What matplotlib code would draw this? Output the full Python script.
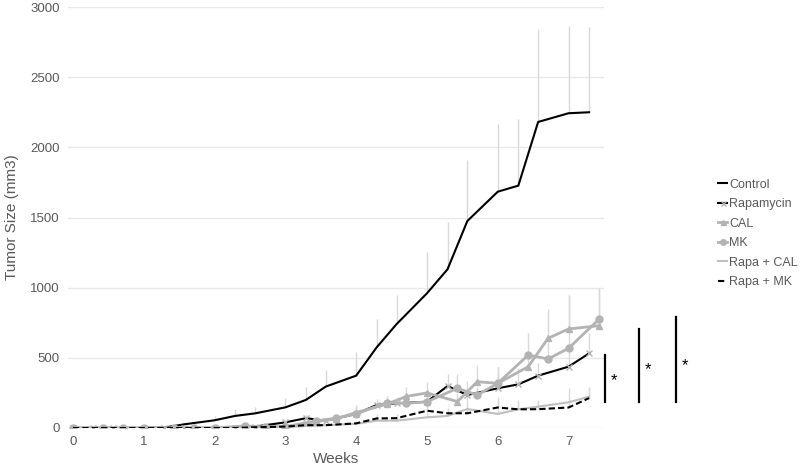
import numpy as np
import matplotlib
matplotlib.use('Agg')
import matplotlib.pyplot as plt

plt.rcParams['font.family'] = ['Liberation Sans', 'DejaVu Sans']

# two measuring schedules (weeks)
WEEKS_A = [0, 0.29, 0.57, 1, 1.29, 1.57, 2, 2.29, 2.57, 3, 3.29, 3.57, 4, 4.29, 4.57,
           5, 5.29, 5.57, 6, 6.29, 6.57, 7, 7.29]
WEEKS_B = [0, 0.43, 0.71, 1, 1.43, 1.71, 2, 2.43, 2.71, 3, 3.43, 3.71, 4, 4.43, 4.71,
           5, 5.43, 5.71, 6, 6.43, 6.71, 7, 7.43]

control = [0, 0, 0, 0, 3, 26, 55, 86, 104, 147, 200, 295, 373, 575, 740,
           960, 1131, 1475, 1684, 1727, 2181, 2243, 2250]
control_err = [0, 0, 0, 0, 5, 15, 28, 49, 46, 64, 95, 118, 171, 205, 208,
               297, 339, 433, 481, 473, 663, 622, 608]

rapamycin = [0, 0, 0, 0, 0, 0, 0, 0, 10, 40, 70, 52, 100, 164, 176,
             187, 299, 235, 283, 311, 373, 437, 532]
rapamycin_err = [0, 0, 0, 0, 0, 0, 0, 5, 10, 20, 25, 20, 40, 45, 40,
                 45, 85, 100, 110, 120, 90, 110, 145]

cal = [0, 0, 0, 0, 0, 0, 0, 5, 3, 5, 45, 65, 110, 170, 225,
       250, 188, 330, 318, 437, 639, 706, 729]
cal_err = [0, 0, 0, 0, 0, 0, 0, 5, 5, 10, 15, 20, 55, 50, 70,
           80, 60, 120, 120, 100, 207, 240, 267]

mk = [0, 0, 0, 0, 0, 0, 0, 15, 8, 10, 50, 70, 100, 180, 176,
      187, 283, 235, 318, 520, 492, 568, 775]
mk_err = [0, 0, 0, 0, 0, 0, 0, 5, 5, 10, 20, 20, 60, 45, 50,
          60, 100, 60, 120, 155, 120, 380, 225]

rapa_cal = [0, 0, 0, 0, 0, 0, 0, 0, 0, 5, 15, 20, 30, 52, 52,
            76, 86, 135, 100, 133, 152, 183, 223]
rapa_cal_err = [0, 0, 0, 0, 0, 0, 0, 0, 0, 5, 10, 10, 15, 30, 35,
                45, 50, 125, 120, 65, 50, 100, 70]

rapa_mk = [0, 0, 0, 0, 0, 0, 0, 0, 5, 10, 20, 20, 33, 68, 70,
           123, 105, 105, 146, 133, 134, 146, 213]
rapa_mk_err = [0, 0, 0, 0, 0, 0, 0, 0, 5, 10, 10, 10, 15, 30, 30,
               40, 40, 50, 60, 55, 50, 60, 70]

# significance brackets: x, y bottom, y top, star y
SIG_X = [7.52, 8.0, 8.52]
SIG_LOW = [188, 188, 188]
SIG_HIGH = [517, 706, 791]
SIG_STAR = [335, 413, 442]

X_TICKS = [0, 1, 2, 3, 4, 5, 6, 7]
Y_TICKS = [0, 500, 1000, 1500, 2000, 2500, 3000]

GRAY = '#b3b3b3'
LIGHT = '#bfbfbf'
ERR = '#d9d9d9'
TEXT = '#595959'

SERIES = [
    ('Control', WEEKS_A, control, control_err, dict(color='black', lw=1.5)),
    ('Rapamycin', WEEKS_A, rapamycin, rapamycin_err,
     dict(color='black', lw=1.5, marker='x', ms=4.5, mec=GRAY, mew=1)),
    ('CAL', WEEKS_B, cal, cal_err,
     dict(color=GRAY, lw=2, marker='^', ms=4.5, mec=GRAY, mfc=GRAY)),
    ('MK', WEEKS_B, mk, mk_err,
     dict(color=GRAY, lw=2, marker='o', ms=5, mec=GRAY, mfc=GRAY)),
    ('Rapa + CAL', WEEKS_A, rapa_cal, rapa_cal_err, dict(color=LIGHT, lw=1.5)),
    ('Rapa + MK', WEEKS_A, rapa_mk, rapa_mk_err,
     dict(color='black', lw=1.5, ls=(0, (3, 1.5)))),
]

fig = plt.figure(figsize=(8, 4.68), dpi=100)
ax = fig.add_axes([0.085, 0.0855, 0.67, 0.8995])

handles = []
for name, xs, ys, err, style in SERIES:
    ax.errorbar(xs, ys, yerr=[np.zeros(len(err)), err], fmt='none',
                ecolor=ERR, elinewidth=1, capsize=0, zorder=1)
for name, xs, ys, err, style in SERIES:
    h, = ax.plot(xs, ys, label=name, zorder=3, **style)
    handles.append(h)

ax.set_xlim(-0.07, 7.5)
ax.set_ylim(0, 3000)
ax.set_xticks(X_TICKS)
ax.set_yticks(Y_TICKS)
ax.grid(axis='y', color='#e8e8e8', lw=1)
ax.set_axisbelow(True)
for s in ax.spines.values():
    s.set_visible(False)
ax.tick_params(length=0, labelsize=9.5, labelcolor=TEXT, pad=6)
ax.set_xlabel('Weeks', fontsize=11, color=TEXT, labelpad=3)
ax.set_ylabel('Tumor Size (mm3)', fontsize=11, color=TEXT, labelpad=8)

for x, lo, hi, sy in zip(SIG_X, SIG_LOW, SIG_HIGH, SIG_STAR):
    ax.plot([x, x], [lo, hi], color='black', lw=1.6, clip_on=False, zorder=4)
    ax.text(x + 0.08, sy, '*', fontsize=12, ha='left', va='center', clip_on=False)

leg = fig.legend(handles=handles, loc='upper left', bbox_to_anchor=(0.898, 0.618),
                 frameon=False, fontsize=9, handlelength=0.7, handletextpad=0.15,
                 labelspacing=0.6, borderpad=0, borderaxespad=0, markerscale=0.8)
for t in leg.get_texts():
    t.set_color(TEXT)

fig.savefig('out.png', dpi=100)
